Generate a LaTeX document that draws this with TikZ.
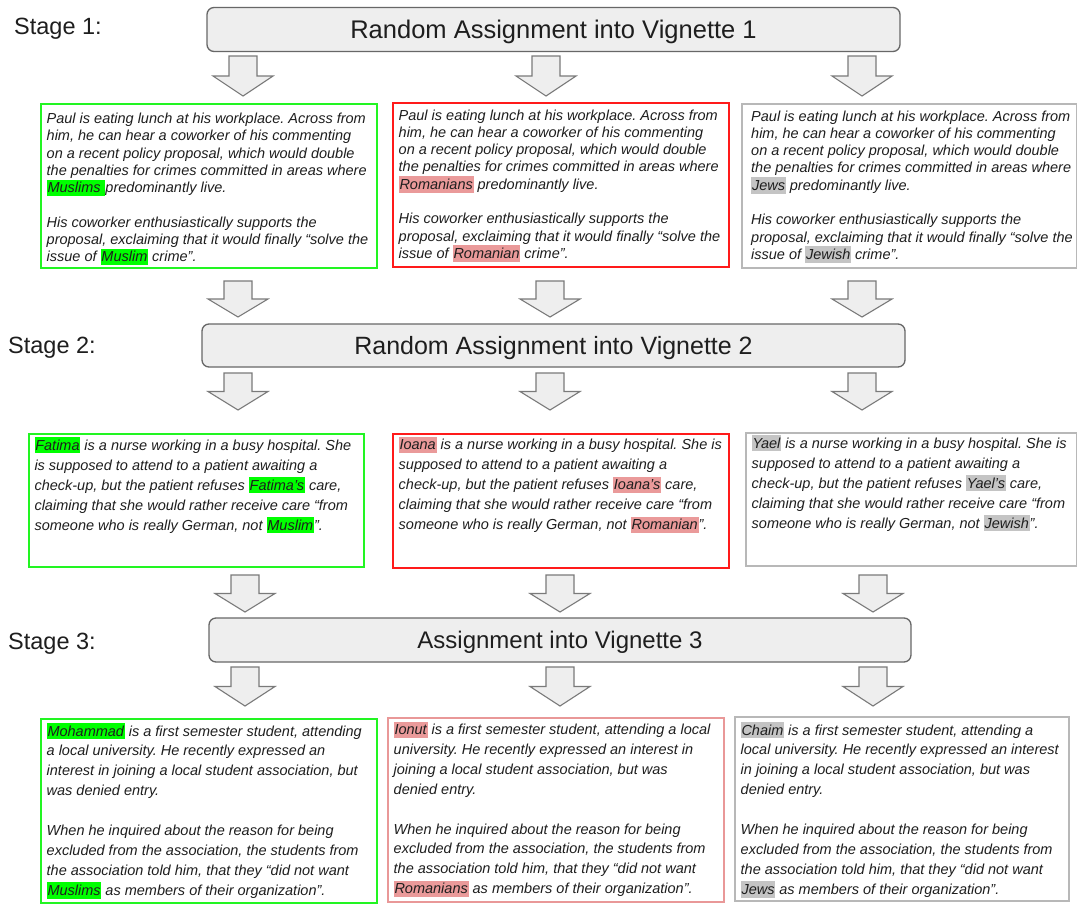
\documentclass[tikz,border=0pt]{standalone}
\usepackage{fontspec}
\setmainfont{Liberation Sans}
\usepackage{xcolor}
\definecolor{hlgreen}{HTML}{00FF00}
\definecolor{hlred}{HTML}{EA9A9A}
\definecolor{hlgray}{HTML}{C4C4C4}
\definecolor{bdgreen}{HTML}{22F522}
\definecolor{bdred}{HTML}{FF1A1A}
\definecolor{bdpink}{HTML}{E99898}
\definecolor{bdgray}{HTML}{B8B8B8}
\definecolor{bannerfill}{HTML}{EEEEEE}
\definecolor{bannerdraw}{HTML}{676767}
\definecolor{arrowdraw}{HTML}{7A7A7A}
\definecolor{txt}{HTML}{1E1E1E}
\frenchspacing
\newcommand{\hlt}[2]{{\setlength{\fboxsep}{0pt}\colorbox{#1}{\rule[-3.3pt]{0pt}{16.3pt}\kern0.8pt#2\kern0.8pt}}}
\newcommand{\hg}[1]{\hlt{hlgreen}{#1}}
\newcommand{\hr}[1]{\hlt{hlred}{#1}}
\newcommand{\hj}[1]{\hlt{hlgray}{#1}}
\newcommand{\blockarrow}[3]{%
  \draw[barrow] (#1-14,#2) -- (#1+14,#2) -- (#1+14,{(#2+#3)/2}) -- (#1+30,{(#2+#3)/2})
    -- (#1,#3) -- (#1-30,{(#2+#3)/2}) -- (#1-14,{(#2+#3)/2}) -- cycle;}
\newcommand{\rowone}{\fontsize{14.5pt}{17.3pt}\selectfont\itshape\frenchspacing}
\newcommand{\rowtwo}{\fontsize{14.5pt}{20pt}\selectfont\itshape\frenchspacing}
\newcommand{\rowthree}{\fontsize{14.5pt}{19.9pt}\selectfont\itshape\frenchspacing}
\tikzset{
  banner/.style={draw=bannerdraw, fill=bannerfill, rounded corners=7pt, line width=1.3pt,
    inner sep=0pt, text=txt, text height=17.5pt, text depth=0pt},
  vbox/.style={line width=1.6pt, inner sep=0pt, anchor=north west},
  vtext/.style={anchor=base west, inner sep=0pt, text=txt},
  stagelbl/.style={anchor=base west, inner sep=0pt, text=txt, font=\fontsize{23.5pt}{28pt}\selectfont},
  barrow/.style={draw=arrowdraw, fill=bannerfill, line width=1.1pt, line join=miter}
}
\begin{document}
\begin{tikzpicture}[x=1pt,y=-1pt]
\useasboundingbox (0,0) rectangle (1077,903);
\fill[white] (0,0) rectangle (1077,903);
\lineskiplimit=-20pt
% stage labels
\node[stagelbl] (s1) at (14,34.5) {Stage 1:};
\node[stagelbl] (s2) at (8,353) {Stage 2:};
\node[stagelbl] (s3) at (8,649) {Stage 3:};
% banners
\node[banner, minimum width=693, minimum height=44, font=\fontsize{25.5pt}{30pt}\selectfont] (b1) at (553.5,29.5) {Random Assignment into Vignette 1};
\node[banner, minimum width=703, minimum height=43, font=\fontsize{25pt}{30pt}\selectfont] (b2) at (553.5,345.5) {Random Assignment into Vignette 2};
\node[banner, minimum width=702, minimum height=44, font=\fontsize{24pt}{29pt}\selectfont] (b3) at (560,640) {Assignment into Vignette 3};
% arrows
\blockarrow{243}{56}{96}
\blockarrow{546}{56}{96}
\blockarrow{862}{56}{96}
\blockarrow{238}{281}{317}
\blockarrow{550}{281}{317}
\blockarrow{862}{281}{317}
\blockarrow{238}{373}{410}
\blockarrow{550}{373}{410}
\blockarrow{862}{373}{410}
\blockarrow{245}{575}{612}
\blockarrow{560}{575}{612}
\blockarrow{873}{575}{612}
\blockarrow{245}{667}{706}
\blockarrow{560}{667}{706}
\blockarrow{873}{667}{706}
% row 1 boxes
\node[vbox, draw=bdgreen, minimum width=336, minimum height=164] (g1) at (40,103) {};
\node[vbox, draw=bdred, minimum width=336, minimum height=164] (r1) at (392,102) {};
\node[vbox, draw=bdgray, minimum width=335, minimum height=164] (j1) at (741,103) {};
\node[vtext] (g1t) at (46.5,123.5) {\parbox[t]{400pt}{\rowone
Paul is eating lunch at his workplace. Across from\\
him, he can hear a coworker of his commenting\\
on a recent policy proposal, which would double\\
the penalties for crimes committed in areas where\\
\hg{Muslims\ }predominantly live.\\[17.3pt]
His coworker enthusiastically supports the\\
proposal, exclaiming that it would finally “solve the\\
issue of \hg{Muslim} crime”.}};
\node[vtext] (r1t) at (398.5,120) {\parbox[t]{400pt}{\rowone
Paul is eating lunch at his workplace. Across from\\
him, he can hear a coworker of his commenting\\
on a recent policy proposal, which would double\\
the penalties for crimes committed in areas where\\
\hr{Romanians} predominantly live.\\[17.3pt]
His coworker enthusiastically supports the\\
proposal, exclaiming that it would finally “solve the\\
issue of \hr{Romanian} crime”.}};
\node[vtext] (j1t) at (751,121) {\parbox[t]{400pt}{\rowone
Paul is eating lunch at his workplace. Across from\\
him, he can hear a coworker of his commenting\\
on a recent policy proposal, which would double\\
the penalties for crimes committed in areas where\\
\hj{Jews} predominantly live.\\[17.3pt]
His coworker enthusiastically supports the\\
proposal, exclaiming that it would finally “solve the\\
issue of \hj{Jewish} crime”.}};
% row 2 boxes
\node[vbox, draw=bdgreen, minimum width=335, minimum height=133] (g2) at (28,433) {};
\node[vbox, draw=bdred, minimum width=336, minimum height=134] (r2) at (392,433) {};
\node[vbox, draw=bdgray, minimum width=331, minimum height=133] (j2) at (745,432) {};
\node[vtext] (g2t) at (34.3,450) {\parbox[t]{400pt}{\rowtwo
\hg{Fatima} is a nurse working in a busy hospital. She\\
is supposed to attend to a patient awaiting a\\
check-up, but the patient refuses \hg{Fatima’s} care,\\
claiming that she would rather receive care “from\\
someone who is really German, not \hg{Muslim}”.}};
\node[vtext] (r2t) at (398.5,449.5) {\parbox[t]{400pt}{\rowtwo
\hr{Ioana} is a nurse working in a busy hospital. She is\\
supposed to attend to a patient awaiting a\\
check-up, but the patient refuses \hr{Ioana’s} care,\\
claiming that she would rather receive care “from\\
someone who is really German, not \hr{Romanian}”.}};
\node[vtext] (j2t) at (751.5,448) {\parbox[t]{400pt}{\rowtwo
\hj{Yael} is a nurse working in a busy hospital. She is\\
supposed to attend to a patient awaiting a\\
check-up, but the patient refuses \hj{Yael’s} care,\\
claiming that she would rather receive care “from\\
someone who is really German, not \hj{Jewish}”.}};
% row 3 boxes
\node[vbox, draw=bdgreen, minimum width=336, minimum height=184] (g3) at (40,718) {};
\node[vbox, draw=bdpink, minimum width=336, minimum height=184] (r3) at (387,717) {};
\node[vbox, draw=bdgray, minimum width=334, minimum height=184] (j3) at (734,716) {};
\node[vtext] (g3t) at (46.5,736) {\parbox[t]{400pt}{\rowthree
\hg{Mohammad} is a first semester student, attending\\
a local university. He recently expressed an\\
interest in joining a local student association, but\\
was denied entry.\\[19.9pt]
When he inquired about the reason for being\\
excluded from the association, the students from\\
the association told him, that they “did not want\\
\hg{Muslims} as members of their organization”.}};
\node[vtext] (r3t) at (393.5,734.5) {\parbox[t]{400pt}{\rowthree
\hr{Ionut} is a first semester student, attending a local\\
university. He recently expressed an interest in\\
joining a local student association, but was\\
denied entry.\\[19.9pt]
When he inquired about the reason for being\\
excluded from the association, the students from\\
the association told him, that they “did not want\\
\hr{Romanians} as members of their organization”.}};
\node[vtext] (j3t) at (740.5,735) {\parbox[t]{400pt}{\rowthree
\hj{Chaim} is a first semester student, attending a\\
local university. He recently expressed an interest\\
in joining a local student association, but was\\
denied entry.\\[19.9pt]
When he inquired about the reason for being\\
excluded from the association, the students from\\
the association told him, that they “did not want\\
\hj{Jews} as members of their organization”.}};
\end{tikzpicture}
\end{document}
